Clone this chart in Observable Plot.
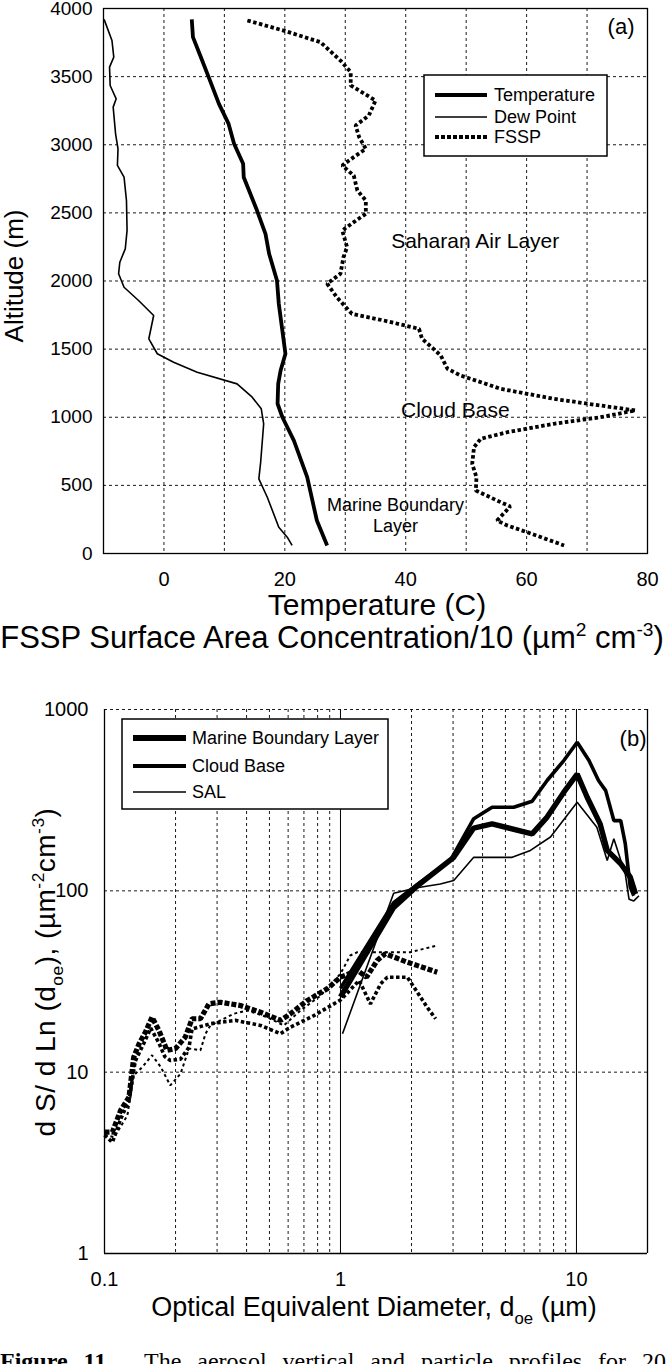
<!DOCTYPE html>
<html><head><meta charset="utf-8">
<script src="https://cdn.jsdelivr.net/npm/d3@7"></script>
<script src="https://cdn.jsdelivr.net/npm/@observablehq/plot@0.6"></script>
<style>
body{margin:0;background:#fff;}
#root{position:relative;width:666px;height:1364px;overflow:hidden;background:#fff;font-family:"Liberation Sans",Arial,Helvetica,sans-serif;color:#000;}
.abs{position:absolute;white-space:nowrap;line-height:1;}
.sub{font-size:0.62em;position:relative;top:0.45em;}
.sup{font-size:0.62em;position:relative;top:-0.62em;}
.panel{position:absolute;left:0;}
</style></head><body><div id="root"></div>
<script>
// ---------- Panel (a) data ----------
const tempAlt = [3920,3790,3655,3496,3300,3153,3007,2860,2762,2517,2346,2200,2004,1833,1466,1343,1245,1099,1000,829,560,242,59];
const tempVal = [4.6,4.8,6.0,7.4,9.1,10.7,11.6,13.1,13.2,15.4,16.8,17.4,18.7,19.0,20.1,19.3,18.9,18.8,19.6,21.5,23.7,25.3,27.0];
const dewAlt = [3920,3765,3643,3570,3435,3337,3276,3080,2970,2848,2762,2591,2371,2236,2138,2053,1954,1857,1747,1576,1466,1404,1331,1245,1147,1062,952,670,548,413,193,120,59];
const dewVal = [-9.9,-8.6,-8.3,-9.0,-8.9,-7.9,-8.4,-8.0,-7.6,-7.7,-6.6,-6.2,-6.1,-6.4,-7.3,-7.5,-6.6,-4.2,-1.7,-2.5,-1.1,1.6,5.5,12.1,14.6,16.1,16.5,16.0,15.7,17.1,19.0,20.4,21.2];
const fsspAlt = [3912,3838,3753,3618,3533,3435,3398,3325,3215,3141,3056,2970,2909,2848,2774,2664,2591,2493,2432,2371,2248,2175,2053,1980,1881,1759,1710,1649,1576,1502,1453,1356,1306,1209,1135,1086,1050,1000,952,890,842,780,658,560,462,389,345,242,206,156,59];
const fsspVal = [13.8,19.8,25.9,29.2,30.9,30.9,32.3,35.0,33.9,31.7,32.3,33.4,31.4,29.5,31.4,32.0,33.4,33.4,31.4,29.5,30.3,29.7,29.2,27.0,28.6,31.1,36.4,42.2,42.7,44.6,45.8,46.9,49.1,55.7,64.5,72.2,78.0,72.2,64.5,56.8,52.4,51.3,51.0,51.7,51.6,55.1,57.3,55.1,56.8,60.1,66.2];
const altTicks = [0,500,1000,1500,2000,2500,3000,3500,4000];
const tempTicks = [0,20,40,60,80];
const tempGrid = [0,10,20,30,40,50,60,70];
const altGrid = [500,1000,1500,2000,2500,3000,3500];
const seriesA = ["Temperature","Dew Point","FSSP"];
const annALabels = ["Saharan Air Layer","Cloud Base","Marine Boundary\nLayer"];
const annATemp = [51.5,48.2,38.3];
const annAAlt = [2290,1050,286];

// ---------- Panel (b) data ----------
const mblD = [1.0,1.68,2.11,3.02,3.67,4.39,6.49,7.51,8.84,10.07,11.1,12.6,13.5,15.4,16.9,17.8];
const mblS = [26,81,106,153,222,234,206,255,350,440,328,234,167,141,119,96];
const cbD = [1.0,1.68,2.11,2.93,3.67,4.39,5.42,6.49,7.51,8.84,10.07,11.3,12.4,13.3,14.4,15.4,16.1,16.9,17.5];
const cbS = [29,86,108,148,250,289,289,312,406,523,660,523,406,357,244,244,182,105,94];
const salD = [1.02,1.68,2.11,2.65,3.02,3.67,5.34,6.38,7.76,10.07,12.2,13.5,14.4,16.1,16.7,17.5,18.4];
const salS = [16.3,97,104,109,114,153,153,167,198,308,224,147,194,124,90,88,94];
const mblDotD = [0.1,0.108,0.117,0.127,0.133,0.140,0.149,0.159,0.170,0.184,0.200,0.220,0.235,0.255,0.277,0.310,0.377,0.458,0.557,0.614,0.722,0.878,1.0,1.18,1.29,1.43,1.55,1.92,2.57];
const mblDotS = [4.67,4.67,6.15,7.28,12.1,14.3,16.6,20.1,17.0,13.2,13.5,15.6,19.7,19.7,23.8,24.3,23.3,21.4,19.3,21,24.8,28.8,33.4,36.4,33.4,41.3,45,40.4,35.6];
const cbDotD = [0.1,0.108,0.117,0.127,0.135,0.147,0.157,0.17,0.18,0.19,0.21,0.228,0.235,0.281,0.359,0.458,0.557,0.614,0.771,1.0,1.2,1.34,1.48,1.58,1.92,2.05,2.33,2.53];
const cbDotS = [4.5,4.1,5.5,7.0,11.5,14.5,17.5,14.5,12.2,11.6,11.8,13.7,17.3,18.5,19.3,18.1,16.3,17.7,20.5,25,32,23.8,30.7,33.4,33.4,29.4,22.8,19.7];
const salDotD = [0.1,0.11,0.125,0.133,0.145,0.159,0.173,0.19,0.21,0.228,0.255,0.268,0.281,0.353,0.402,0.489,0.575,0.677,0.823,1.0,1.1,1.18,1.38,1.98,2.57];
const salDotS = [4.5,4.38,5.77,9.6,10.7,12.4,10.7,8.45,9.8,13.5,13.2,16.3,18.1,21,21.9,20.1,18.1,21.9,26.4,34.9,44,45.9,45.9,45.9,50];
const dTicks = [0.1,1,10];
const sTicks = [1,10,100,1000];
const dMinorGrid = [0.2,0.3,0.4,0.5,0.6,0.7,0.8,0.9,2,3,4,5,6,7,8,9];
const dMajorGrid = [1,10];
const sGrid = [10,100,1000];
const seriesB = ["Marine Boundary Layer","Cloud Base","SAL"];

const sans = '"Liberation Sans", Arial, Helvetica, sans-serif';
const zip = (xs, ys) => xs.map((x, i) => ({x, y: ys[i]}));
const dash = {stroke: "#000", strokeWidth: 0.9, strokeDasharray: "3,3"};
const dotted = (w, pattern) => ({x: "x", y: "y", stroke: "#000", strokeWidth: w, strokeDasharray: pattern, strokeLinecap: "butt", strokeLinejoin: "miter"});
const solid = w => ({x: "x", y: "y", stroke: "#000", strokeWidth: w, strokeLinejoin: "miter", strokeLinecap: "butt"});
const fmt = d => String(d);
const root = document.getElementById("root");

// ---------- Panel (a) ----------
const plotA = Plot.plot({
  width: 666, height: 600,
  marginLeft: 103, marginRight: 19, marginTop: 8, marginBottom: 47,
  style: {fontFamily: sans, fontSize: "20px", background: "transparent", color: "#000", overflow: "visible"},
  x: {domain: [-10, 80]},
  y: {domain: [0, 4000]},
  marks: [
    Plot.ruleX(tempGrid, dash),
    Plot.ruleY(altGrid, dash),
    Plot.frame({stroke: "#000", strokeWidth: 1.3}),
    Plot.axisX(tempTicks, {tickSize: 0, tickPadding: 18, label: null, fontSize: 20, tickFormat: fmt}),
    Plot.axisY(altTicks, {tickSize: 0, tickPadding: 11, label: null, fontSize: 19, tickFormat: fmt}),
    Plot.line(zip(dewVal, dewAlt), solid(1.6)),
    Plot.line(zip(tempVal, tempAlt), solid(3.8)),
    Plot.line(zip(fsspVal, fsspAlt), dotted(3.8, "3.5,2.5")),
    Plot.text([0, 1], {x: i => annATemp[i], y: i => annAAlt[i], text: i => annALabels[i], fontSize: 21, fill: "#000"}),
    Plot.text([2], {x: i => annATemp[i], y: i => annAAlt[i], text: i => annALabels[i], fontSize: 18, fill: "#000", lineHeight: 1.15}),
    Plot.text(["(a)"], {frameAnchor: "top-right", dx: -13, dy: 10, fontSize: 22, textAnchor: "end", fill: "#000"})
  ]
});
plotA.classList.add("panel");
plotA.style.top = "0px";
root.appendChild(plotA);

// ---------- Panel (b) ----------
const plotB = Plot.plot({
  width: 666, height: 620,
  marginLeft: 104, marginRight: 19, marginTop: 29, marginBottom: 47,
  style: {fontFamily: sans, fontSize: "20px", background: "transparent", color: "#000", overflow: "visible"},
  x: {type: "log", domain: [0.1, 20]},
  y: {type: "log", domain: [1, 1000]},
  marks: [
    Plot.ruleX(dMinorGrid, dash),
    Plot.ruleY(sGrid, dash),
    Plot.ruleX(dMajorGrid, {stroke: "#000", strokeWidth: 1}),
    Plot.ruleX([0.1, 20], {stroke: "#000", strokeWidth: 1.3}),
    Plot.ruleY([1], {stroke: "#000", strokeWidth: 1.3}),
    Plot.axisX(dTicks, {tickSize: 0, tickPadding: 18, label: null, fontSize: 20, tickFormat: fmt}),
    Plot.axisY(sTicks, {tickSize: 0, tickPadding: 16, label: null, fontSize: 20, tickFormat: fmt}),
    Plot.line(zip(salDotD, salDotS), dotted(2, "3,3")),
    Plot.line(zip(cbDotD, cbDotS), dotted(3.6, "3.5,2.5")),
    Plot.line(zip(mblDotD, mblDotS), dotted(5.2, "5,2")),
    Plot.line(zip(salD, salS), solid(1.6)),
    Plot.line(zip(cbD, cbS), solid(3.6)),
    Plot.line(zip(mblD, mblS), solid(5.4)),
    Plot.text(["(b)"], {frameAnchor: "top-right", dx: -1, dy: 21, fontSize: 22, textAnchor: "end", fill: "#000"})
  ]
});
plotB.classList.add("panel");
plotB.style.top = "680px";
root.appendChild(plotB);

// ---------- Legends ----------
function legend(left, top, w, h, rows, rowY, widths, dashes, x1, x2, tx) {
  const svg = d3.create("svg").attr("width", w + 2).attr("height", h + 2)
    .style("position", "absolute").style("left", (left - 1) + "px").style("top", (top - 1) + "px");
  svg.append("rect").attr("x", 1).attr("y", 1).attr("width", w).attr("height", h)
    .attr("fill", "#fff").attr("stroke", "#000").attr("stroke-width", 1.5);
  rows.forEach((r, i) => {
    svg.append("line").attr("x1", x1 + 1).attr("x2", x2 + 1).attr("y1", rowY[i] + 1).attr("y2", rowY[i] + 1)
      .attr("stroke", "#000").attr("stroke-width", widths[i]).attr("stroke-dasharray", dashes[i]);
    svg.append("text").attr("x", tx + 1).attr("y", rowY[i] + 1).attr("dy", "0.35em")
      .attr("font-family", sans).attr("font-size", 18).text(r);
  });
  root.appendChild(svg.node());
}
legend(424, 75, 183, 81, seriesA, [20, 42, 62], [4, 1.5, 4], [null, null, "4,2"], 11, 63, 70);
legend(122, 719, 266, 90, seriesB, [19, 47, 73], [6, 4, 1.3], [null, null, null], 11, 64, 70);

// ---------- Titles ----------
function addText(html, css) {
  const d = document.createElement("div");
  d.className = "abs";
  d.innerHTML = html;
  Object.assign(d.style, css);
  root.appendChild(d);
}
addText("Altitude (m)", {fontSize: "26px", left: "14px", top: "276px", transform: "translate(-50%,-50%) rotate(-90deg)"});
addText("Temperature (C)", {fontSize: "30px", left: "377px", top: "590px", transform: "translateX(-50%)"});
addText('FSSP Surface Area Concentration/10 (µm<span class="sup">2</span> cm<span class="sup">-3</span>)', {fontSize: "31px", left: "332px", top: "622px", transform: "translateX(-50%)"});
addText('d S/ d Ln (d<span class="sub">oe</span>), (µm<span class="sup">-2</span>cm<span class="sup">-3</span>)', {fontSize: "28px", letterSpacing: "0.5px", left: "46px", top: "972px", transform: "translate(-50%,-50%) rotate(-90deg)"});
addText('Optical Equivalent Diameter, d<span class="sub">oe</span> (µm)', {fontSize: "27px", left: "374px", top: "1294px", transform: "translateX(-50%)"});
addText('<b>Figure 11.</b>&nbsp;&nbsp;The aerosol vertical and particle profiles for 20', {fontFamily: '"Liberation Serif","Times New Roman",serif', fontSize: "24px", left: "0px", top: "1349px", width: "666px", textAlign: "justify", textAlignLast: "justify"});
</script></body></html>
